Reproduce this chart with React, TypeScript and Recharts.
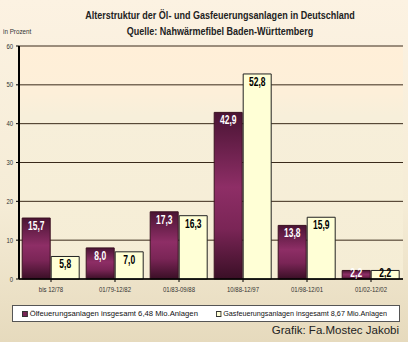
import React from 'react';
import { BarChart, Bar, XAxis, YAxis, CartesianGrid, LabelList } from 'recharts';

const categories = ['bis 12/78', '01/79-12/82', '01/83-09/88', '10/88-12/97', '01/98-12/01', '01/02-12/02'];
const oelValues = [15.7, 8.0, 17.3, 42.9, 13.8, 2.2];
const gasValues = [5.8, 7.0, 16.3, 52.8, 15.9, 2.2];
const yTicks = [0, 10, 20, 30, 40, 50, 60];
const oelName = 'Ölfeuerungsanlagen insgesamt 6,48 Mio.Anlagen';
const gasName = 'Gasfeuerungsanlagen insgesamt 8,67 Mio.Anlagen';

const data = categories.map((c, i) => ({ cat: c, oel: oelValues[i], gas: gasValues[i] }));

const fmt = (v: any) => Number(v).toFixed(1).replace('.', ',');

const font = 'Arial, "Liberation Sans", sans-serif';

const makeLabel = (color: string) => (props: any) => {
  const { x, y, width, height, value } = props;
  const baseline = Math.min(y + 12, y + height - 2);
  return (
    <text
      transform={`translate(${x + width / 2}, ${baseline}) scale(0.68, 1)`}
      x={0}
      y={0}
      textAnchor="middle"
      fill={color}
      fontFamily={font}
      fontWeight="bold"
      fontSize={12.5}
    >
      {fmt(value)}
    </text>
  );
};

const XTick = (props: any) => {
  const { x, y, payload } = props;
  return (
    <text
      transform={`translate(${x}, ${y + 8}) scale(0.8, 1)`}
      x={0}
      y={0}
      textAnchor="middle"
      fill="#333"
      fontFamily={font}
      fontSize={7.5}
    >
      {payload.value}
    </text>
  );
};

const YTick = (props: any) => {
  const { x, y, payload } = props;
  return (
    <text
      transform={`translate(${x - 1}, ${y + 2.5}) scale(0.85, 1)`}
      x={0}
      y={0}
      textAnchor="end"
      fill="#333"
      fontFamily={font}
      fontSize={7}
    >
      {payload.value}
    </text>
  );
};

export default function App() {
  return (
    <div
      style={{
        position: 'absolute',
        left: 0,
        top: 0,
        width: 408,
        height: 342,
        background: 'linear-gradient(to bottom, #FCF2E2 0%, #F5ECD6 60%, #E6DABD 100%)',
        fontFamily: font,
        overflow: 'hidden',
      }}
    >
      <div
        style={{
          position: 'absolute',
          left: 0,
          width: 440,
          top: 7,
          textAlign: 'center',
          fontSize: 11,
          fontWeight: 'bold',
          color: '#222',
          lineHeight: '16px',
          transform: 'scaleX(0.82)',
          transformOrigin: '220px 0',
        }}
      >
        Alterstruktur der Öl- und Gasfeuerungsanlagen in Deutschland
        <br />
        Quelle: Nahwärmefibel Baden-Württemberg
      </div>
      <div style={{ position: 'absolute', left: 3, top: 28, fontSize: 7, color: '#333', transform: 'scaleX(0.9)', transformOrigin: '0 0' }}>
        in Prozent
      </div>
      <BarChart
        width={408}
        height={342}
        data={data}
        margin={{ top: 46, right: 5, left: 0, bottom: 43 }}
        barCategoryGap="5%"
        barGap={1}
      >
        <defs>
          <linearGradient id="plotBg" x1="0" y1="0" x2="0" y2="1">
            <stop offset="0%" stopColor="#FFEFD8" />
            <stop offset="20%" stopColor="#FDEFD9" />
            <stop offset="30%" stopColor="#F7EFDA" />
            <stop offset="100%" stopColor="#F5EDD5" />
          </linearGradient>
          <linearGradient id="purpleGrad" x1="0" y1="0" x2="0" y2="1">
            <stop offset="0%" stopColor="#4A1434" />
            <stop offset="45%" stopColor="#8E2E66" />
            <stop offset="70%" stopColor="#7A2556" />
            <stop offset="100%" stopColor="#3A0F26" />
          </linearGradient>
        </defs>
        <CartesianGrid vertical={false} stroke="#3a2a1a" strokeWidth={1} fill="url(#plotBg)" />
        <XAxis
          dataKey="cat"
          height={20}
          tickLine={{ stroke: '#000' }}
          axisLine={{ stroke: '#000', strokeWidth: 1.5 }}
          tick={<XTick />}
          tickSize={3}
          interval={0}
        />
        <YAxis
          width={19}
          domain={[0, 60]}
          ticks={yTicks}
          tickLine={{ stroke: '#000' }}
          axisLine={{ stroke: '#000', strokeWidth: 2 }}
          tick={<YTick />}
          tickSize={3}
        />
        <Bar dataKey="oel" name={oelName} fill="url(#purpleGrad)" stroke="#3a1020" strokeWidth={1} isAnimationActive={false}>
          <LabelList dataKey="oel" content={makeLabel('#ffffff')} />
        </Bar>
        <Bar dataKey="gas" name={gasName} fill="#FFFFD6" stroke="#222" strokeWidth={1} isAnimationActive={false}>
          <LabelList dataKey="gas" content={makeLabel('#000000')} />
        </Bar>
      </BarChart>
      <div
        style={{
          position: 'absolute',
          left: 12,
          top: 305,
          width: 388,
          height: 17,
          boxSizing: 'border-box',
          background: '#fff',
          border: '1px solid #555',
          fontSize: 8,
          color: '#111',
          fontFamily: font,
        }}
      >
        <span style={{ position: 'absolute', left: 9, top: 3, display: 'flex', alignItems: 'center', whiteSpace: 'nowrap', transform: 'scaleX(0.96)', transformOrigin: '0 0' }}>
          <span style={{ display: 'inline-block', width: 4, height: 4, background: '#7A2556', border: '1px solid #333', marginRight: 2 }} />
          {oelName}
        </span>
        <span style={{ position: 'absolute', left: 203, top: 3, display: 'flex', alignItems: 'center', whiteSpace: 'nowrap', transform: 'scaleX(0.9)', transformOrigin: '0 0' }}>
          <span style={{ display: 'inline-block', width: 4, height: 4, background: '#FFFFD6', border: '1px solid #333', marginRight: 2 }} />
          {gasName}
        </span>
      </div>
      <div style={{ position: 'absolute', right: 9, top: 324, fontSize: 11.5, color: '#222', fontFamily: font }}>
        Grafik: Fa.Mostec Jakobi
      </div>
    </div>
  );
}
